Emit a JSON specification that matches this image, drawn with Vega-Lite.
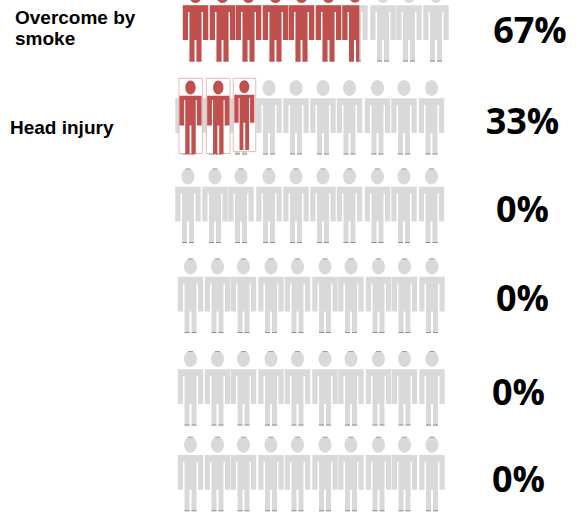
{
"$schema":"https://vega.github.io/schema/vega-lite/v6.json",
"width":577,"height":515,"padding":0,"autosize":{"type":"none"},
"background":"white",
"config":{"view":{"stroke":null}},
"datasets":{
"people":[
{"row":1,"col":1,"state":"affected"},{"row":1,"col":2,"state":"affected"},{"row":1,"col":3,"state":"affected"},{"row":1,"col":4,"state":"affected"},{"row":1,"col":5,"state":"affected"},{"row":1,"col":6,"state":"affected"},{"row":1,"col":7,"state":"partial"},{"row":1,"col":8,"state":"none"},{"row":1,"col":9,"state":"none"},{"row":1,"col":10,"state":"none"},
{"row":2,"col":1,"state":"affected"},{"row":2,"col":2,"state":"affected"},{"row":2,"col":3,"state":"partial"},{"row":2,"col":4,"state":"none"},{"row":2,"col":5,"state":"none"},{"row":2,"col":6,"state":"none"},{"row":2,"col":7,"state":"none"},{"row":2,"col":8,"state":"none"},{"row":2,"col":9,"state":"none"},{"row":2,"col":10,"state":"none"},
{"row":3,"col":1,"state":"none"},{"row":3,"col":2,"state":"none"},{"row":3,"col":3,"state":"none"},{"row":3,"col":4,"state":"none"},{"row":3,"col":5,"state":"none"},{"row":3,"col":6,"state":"none"},{"row":3,"col":7,"state":"none"},{"row":3,"col":8,"state":"none"},{"row":3,"col":9,"state":"none"},{"row":3,"col":10,"state":"none"},
{"row":4,"col":1,"state":"none"},{"row":4,"col":2,"state":"none"},{"row":4,"col":3,"state":"none"},{"row":4,"col":4,"state":"none"},{"row":4,"col":5,"state":"none"},{"row":4,"col":6,"state":"none"},{"row":4,"col":7,"state":"none"},{"row":4,"col":8,"state":"none"},{"row":4,"col":9,"state":"none"},{"row":4,"col":10,"state":"none"},
{"row":5,"col":1,"state":"none"},{"row":5,"col":2,"state":"none"},{"row":5,"col":3,"state":"none"},{"row":5,"col":4,"state":"none"},{"row":5,"col":5,"state":"none"},{"row":5,"col":6,"state":"none"},{"row":5,"col":7,"state":"none"},{"row":5,"col":8,"state":"none"},{"row":5,"col":9,"state":"none"},{"row":5,"col":10,"state":"none"},
{"row":6,"col":1,"state":"none"},{"row":6,"col":2,"state":"none"},{"row":6,"col":3,"state":"none"},{"row":6,"col":4,"state":"none"},{"row":6,"col":5,"state":"none"},{"row":6,"col":6,"state":"none"},{"row":6,"col":7,"state":"none"},{"row":6,"col":8,"state":"none"},{"row":6,"col":9,"state":"none"},{"row":6,"col":10,"state":"none"}
],
"rows":[
{"row":1,"cause":"Overcome by\nsmoke","pct":"67%"},
{"row":2,"cause":"Head injury","pct":"33%"},
{"row":3,"cause":"","pct":"0%"},
{"row":4,"cause":"","pct":"0%"},
{"row":5,"cause":"","pct":"0%"},
{"row":6,"cause":"","pct":"0%"}
]},
"layer":[
{"data":{"name":"people"},
 "transform":[{"filter":"datum.row==1"}],
 "encoding":{
  "x":{"field":"col","type":"quantitative","axis":null,"scale":{"domain":[1,2,3,4,5,6,7,8,9,10],"range":[195.5,222.5,248.5,275.5,301.5,328.5,355,383,409,436]}},
  "y":{"field":"row","type":"quantitative","axis":null,"scale":{"domain":[1,2,3,4,5,6],"range":[24.5,117.5,206,296,388.5,474.2]}}
 },
 "layer":[
  {"mark":{"type":"point","filled":true,"opacity":1,"size":5625,"color":"#D9D9D9","shape":"M-0.339 -0.512L0.339 -0.512L0.339 0.413L0.2 0.413L0.2 -0.333L0.16 -0.333L0.16 0.987L0.027 0.987L0.027 0.413L-0.027 0.413L-0.027 0.987L-0.16 0.987L-0.16 -0.333L-0.2 -0.333L-0.2 0.413L-0.339 0.413ZM-0.173 -0.787A0.173 0.213 0 1 1 0.173 -0.787A0.173 0.213 0 1 1 -0.173 -0.787Z"}},
  {"mark":{"type":"point","filled":true,"opacity":1,"size":5625,"color":"#8C8C8C","shape":"M-0.16 0.96L-0.027 0.96L-0.027 0.987L-0.16 0.987ZM0.027 0.96L0.16 0.96L0.16 0.987L0.027 0.987Z"}},
  {"transform":[{"filter":"datum.state=='affected'"}],
   "mark":{"type":"point","filled":true,"opacity":1,"size":5625,"color":"#C0504D","shape":"M-0.339 -0.512L0.339 -0.512L0.339 0.413L0.2 0.413L0.2 -0.333L0.16 -0.333L0.16 0.987L0.027 0.987L0.027 0.413L-0.027 0.413L-0.027 0.987L-0.16 0.987L-0.16 -0.333L-0.2 -0.333L-0.2 0.413L-0.339 0.413ZM-0.173 -0.787A0.173 0.213 0 1 1 0.173 -0.787A0.173 0.213 0 1 1 -0.173 -0.787Z"}},
  {"transform":[{"filter":"datum.state=='partial'"}],
   "mark":{"type":"point","filled":true,"opacity":1,"size":5625,"color":"#C0504D","shape":"M-0.339 -0.512L0.115 -0.512L0.115 0.987L0.027 0.987L0.027 0.413L-0.027 0.413L-0.027 0.987L-0.16 0.987L-0.16 -0.333L-0.2 -0.333L-0.2 0.413L-0.339 0.413ZM-0.173 -0.787A0.173 0.213 0 1 1 0.115 -0.787L0.115 -0.64A0.173 0.213 0 0 1 -0.173 -0.787Z"}}
 ]},
{"data":{"name":"people"},
 "transform":[{"filter":"datum.row==2 || datum.row==3"}],
 "encoding":{
  "x":{"field":"col","type":"quantitative","axis":null,"scale":{"domain":[1,2,3,4,5,6,7,8,9,10],"range":[188,215,241,269,296,323,349.5,377.5,404,431.5]}},
  "y":{"field":"row","type":"quantitative","axis":null,"scale":{"domain":[1,2,3,4,5,6],"range":[24.5,117.5,206,296,388.5,474.2]}}
 },
 "layer":[
  {"mark":{"type":"point","filled":true,"opacity":1,"size":5625,"color":"#D9D9D9","shape":"M-0.339 -0.512L0.339 -0.512L0.339 0.413L0.2 0.413L0.2 -0.333L0.16 -0.333L0.16 0.987L0.027 0.987L0.027 0.413L-0.027 0.413L-0.027 0.987L-0.16 0.987L-0.16 -0.333L-0.2 -0.333L-0.2 0.413L-0.339 0.413ZM-0.173 -0.787A0.173 0.213 0 1 1 0.173 -0.787A0.173 0.213 0 1 1 -0.173 -0.787Z"}},
  {"mark":{"type":"point","filled":true,"opacity":1,"size":5625,"color":"#8C8C8C","shape":"M-0.16 0.96L-0.027 0.96L-0.027 0.987L-0.16 0.987ZM0.027 0.96L0.16 0.96L0.16 0.987L0.027 0.987Z"}},
  {"transform":[{"filter":"datum.row==3"}],
   "mark":{"type":"point","filled":true,"opacity":1,"size":5625,"color":"#999999","shape":"M-0.07 -1L0.07 -1L0.07 -0.975L-0.07 -0.975Z"}}
 ]},
{"data":{"name":"people"},
 "transform":[{"filter":"datum.row>=4"}],
 "encoding":{
  "x":{"field":"col","type":"quantitative","axis":null,"scale":{"domain":[1,2,3,4,5,6,7,8,9,10],"range":[190.5,217.5,243.5,271,297.5,325,351,378.5,404.5,432]}},
  "y":{"field":"row","type":"quantitative","axis":null,"scale":{"domain":[1,2,3,4,5,6],"range":[24.5,117.5,206,296,388.5,474.2]}}
 },
 "layer":[
  {"mark":{"type":"point","filled":true,"opacity":1,"size":5625,"color":"#D9D9D9","shape":"M-0.339 -0.512L0.339 -0.512L0.339 0.413L0.2 0.413L0.2 -0.333L0.16 -0.333L0.16 0.987L0.027 0.987L0.027 0.413L-0.027 0.413L-0.027 0.987L-0.16 0.987L-0.16 -0.333L-0.2 -0.333L-0.2 0.413L-0.339 0.413ZM-0.173 -0.787A0.173 0.213 0 1 1 0.173 -0.787A0.173 0.213 0 1 1 -0.173 -0.787Z"}},
  {"mark":{"type":"point","filled":true,"opacity":1,"size":5625,"color":"#8C8C8C","shape":"M-0.16 0.96L-0.027 0.96L-0.027 0.987L-0.16 0.987ZM0.027 0.96L0.16 0.96L0.16 0.987L0.027 0.987Z"}},
  {"mark":{"type":"point","filled":true,"opacity":1,"size":5625,"color":"#999999","shape":"M-0.07 -1L0.07 -1L0.07 -0.975L-0.07 -0.975Z"}}
 ]},
{"data":{"name":"people"},
 "transform":[{"filter":"datum.row==2 && datum.state=='affected'"}],
 "mark":{"type":"point","filled":true,"opacity":1,"size":5625,"fill":"white","stroke":"#E6B9B8","strokeWidth":1,"shape":"M-0.315 -1.045L0.315 -1.045L0.315 0.96L-0.315 0.96Z"},
 "encoding":{
  "x":{"field":"col","type":"quantitative","axis":null,"scale":{"domain":[1,2],"range":[190.8,218.2]}},
  "y":{"field":"row","type":"quantitative","axis":null,"scale":{"domain":[1,2],"range":[24.5,117.5]}}
 }},
{"data":{"name":"people"},
 "transform":[{"filter":"datum.row==2 && datum.state=='partial'"}],
 "mark":{"type":"point","filled":true,"opacity":1,"size":5625,"fill":"white","stroke":"#E6B9B8","strokeWidth":1,"shape":"M-0.3 -1.045L0.3 -1.045L0.3 0.91L-0.3 0.91Z"},
 "encoding":{
  "x":{"field":"col","type":"quantitative","axis":null,"scale":{"domain":[2,3],"range":[218.2,244.5]}},
  "y":{"field":"row","type":"quantitative","axis":null,"scale":{"domain":[1,2],"range":[24.5,117.5]}}
 }},
{"data":{"name":"people"},
 "transform":[{"filter":"datum.row==2 && datum.state=='affected'"}],
 "mark":{"type":"point","filled":true,"opacity":1,"size":5625,"color":"#C0504D","shape":"M-0.297 -0.581L0.297 -0.581L0.297 0.21L0.17 0.21L0.17 -0.467L0.14 -0.467L0.14 0.98L0.024 0.98L0.024 0.21L-0.024 0.21L-0.024 0.98L-0.14 0.98L-0.14 -0.467L-0.17 -0.467L-0.17 0.21L-0.297 0.21ZM-0.138 -0.8A0.138 0.187 0 1 1 0.138 -0.8A0.138 0.187 0 1 1 -0.138 -0.8Z"},
 "encoding":{
  "x":{"field":"col","type":"quantitative","axis":null,"scale":{"domain":[1,2],"range":[190.5,218.3]}},
  "y":{"field":"row","type":"quantitative","axis":null,"scale":{"domain":[1,2],"range":[24.5,117.5]}}
 }},
{"data":{"name":"people"},
 "transform":[{"filter":"datum.row==2 && datum.state=='partial'"}],
 "mark":{"type":"point","filled":true,"opacity":1,"size":5625,"color":"#C0504D","shape":"M-0.267 -0.608L0.267 -0.608L0.267 0.139L0.153 0.139L0.153 -0.52L0.127 -0.52L0.127 0.867L0.024 0.867L0.024 0.139L-0.024 0.139L-0.024 0.867L-0.127 0.867L-0.127 -0.52L-0.153 -0.52L-0.153 0.139L-0.267 0.139ZM-0.133 -0.82A0.133 0.173 0 1 1 0.133 -0.82A0.133 0.173 0 1 1 -0.133 -0.82Z"},
 "encoding":{
  "x":{"field":"col","type":"quantitative","axis":null,"scale":{"domain":[2,3],"range":[218.3,244.3]}},
  "y":{"field":"row","type":"quantitative","axis":null,"scale":{"domain":[1,2],"range":[24.5,117.5]}}
 }},
{"data":{"name":"rows"},
 "mark":{"type":"text","align":"left","baseline":"middle","font":"Liberation Sans","fontWeight":"bold","fontSize":19,"lineHeight":21.3,"lineBreak":"\n","color":"black"},
 "encoding":{
  "text":{"field":"cause"},
  "x":{"field":"row","type":"quantitative","axis":null,"scale":{"domain":[1,2,3,4,5,6],"range":[15,10,10,10,10,10]}},
  "y":{"field":"row","type":"quantitative","axis":null,"scale":{"domain":[1,2,3,4,5,6],"range":[17.5,128,209,298,392,479]}}
 }},
{"data":{"name":"rows"},
 "mark":{"type":"text","align":"center","baseline":"middle","font":"Open Sans","fontWeight":"bold","fontSize":36,"color":"black"},
 "encoding":{
  "text":{"field":"pct"},
  "x":{"field":"row","type":"quantitative","axis":null,"scale":{"domain":[1,2,3,4,5,6],"range":[530,522.5,522.5,522.5,518.5,518.5]}},
  "y":{"field":"row","type":"quantitative","axis":null,"scale":{"domain":[1,2,3,4,5,6],"range":[31.5,122.5,210.5,299.5,393.5,480.5]}}
 }}
],
"resolve":{"scale":{"x":"independent","y":"independent"}}
}
